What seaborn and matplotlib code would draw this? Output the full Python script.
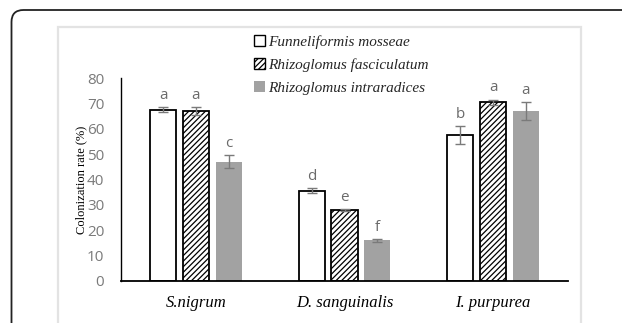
import matplotlib
matplotlib.use("Agg")
import matplotlib.pyplot as plt
from matplotlib.patches import FancyBboxPatch, Rectangle, Patch
import seaborn as sns
import pandas as pd

plants = ["S.nigrum", "D. sanguinalis", "I. purpurea"]
fungi = ["Funneliformis mosseae", "Rhizoglomus fasciculatum", "Rhizoglomus intraradices"]
mosseae = [67.5, 35.5, 57.5]
fasciculatum = [67.0, 28.0, 70.5]
intraradices = [47.0, 16.0, 67.0]
err_mosseae = [1.0, 1.0, 3.5]
err_fasciculatum = [1.5, 0.3, 1.0]
err_intraradices = [2.5, 0.5, 3.5]
letters_mosseae = ["a", "d", "b"]
letters_fasciculatum = ["a", "e", "a"]
letters_intraradices = ["c", "f", "a"]
yticks = [0, 10, 20, 30, 40, 50, 60, 70, 80]

values = [mosseae, fasciculatum, intraradices]
errs = [err_mosseae, err_fasciculatum, err_intraradices]
letters = [letters_mosseae, letters_fasciculatum, letters_intraradices]

rows = []
for f, vals in zip(fungi, values):
    for p, v in zip(plants, vals):
        rows.append({"plant": p, "fungus": f, "rate": v})
df = pd.DataFrame(rows)

sns.set_style("white")
plt.rcParams["hatch.linewidth"] = 0.9

W, H = 622, 323
fig = plt.figure(figsize=(W / 100, H / 100), dpi=100)
ax = fig.add_axes([121 / W, 1 - 281 / H, (568 - 121) / W, (281 - 78) / H])

sns.barplot(data=df, x="plant", y="rate", hue="fungus", order=plants, hue_order=fungi,
            errorbar=None, width=0.66, gap=0.2, legend=False, ax=ax)

styles = [
    dict(facecolor="white", edgecolor="black", linewidth=1.3, hatch=None),
    dict(facecolor="white", edgecolor="black", linewidth=1.3, hatch="//////"),
    dict(facecolor="#a2a2a2", edgecolor="#a2a2a2", linewidth=0, hatch=None),
]
for cont, st, er, lets in zip(ax.containers, styles, errs, letters):
    for bar, e, l in zip(cont, er, lets):
        bar.set_facecolor(st["facecolor"])
        bar.set_edgecolor(st["edgecolor"])
        bar.set_linewidth(st["linewidth"])
        if st["hatch"]:
            bar.set_hatch(st["hatch"])
        xc = bar.get_x() + bar.get_width() / 2
        h = bar.get_height()
        ax.errorbar(xc, h, yerr=e, fmt="none", ecolor="#7a7a7a", elinewidth=1.0,
                    capsize=3.5, capthick=1.0, zorder=5)
        ax.text(xc, h + e + 1.8, l, ha="center", va="bottom", fontsize=11,
                color="#6b6b6b", family="Open Sans")

ax.set_xlim(-0.505, 2.505)
ax.set_ylim(0, 80)
ax.set_yticks(yticks)
ax.set_yticklabels([str(t) for t in yticks], fontsize=11, color="#7a7a7a", family="Open Sans")
ax.set_xticks(range(len(plants)))
ax.set_xticklabels(plants, fontsize=12, style="italic", family="Liberation Serif", color="black")
ax.tick_params(axis="both", length=0)
ax.tick_params(axis="x", pad=10)
ax.tick_params(axis="y", pad=12)
ax.set_xlabel("")
ax.set_ylabel("Colonization rate (%)", fontsize=9, family="Liberation Serif", color="black")
ax.yaxis.set_label_coords((87 - 121) / 447, 0.5)
for s in ["top", "right"]:
    ax.spines[s].set_visible(False)
ax.spines["left"].set_color("black")
ax.spines["left"].set_linewidth(1.0)
ax.spines["bottom"].set_color("black")
ax.spines["bottom"].set_linewidth(1.3)

handles = [Patch(facecolor="white", edgecolor="black", linewidth=1.0),
           Patch(facecolor="white", edgecolor="black", linewidth=1.0, hatch="//////"),
           Patch(facecolor="#a2a2a2", edgecolor="#a2a2a2", linewidth=0)]
leg = fig.legend(handles, fungi, loc="upper left", bbox_to_anchor=(254 / W, 1 - 35 / H),
                 frameon=False, prop={"family": "Liberation Serif", "style": "italic", "size": 11},
                 handlelength=0.7, handleheight=0.7, handletextpad=0.25, labelspacing=0.6,
                 borderaxespad=0, borderpad=0)

# inner light frame
fig.add_artist(Rectangle((58 / W, -0.1), (581 - 58) / W, 1.1 - 27 / H,
                         transform=fig.transFigure, facecolor="none",
                         edgecolor="#e3e3e3", linewidth=1.6))
# outer rounded frame
fig.add_artist(FancyBboxPatch((0.115, -0.6), 7.0, 3.23 - 0.10 + 0.6,
                              boxstyle="round,pad=0,rounding_size=0.12",
                              transform=fig.dpi_scale_trans, facecolor="none",
                              edgecolor="#222222", linewidth=1.3))

fig.savefig("out.png", dpi=100)
